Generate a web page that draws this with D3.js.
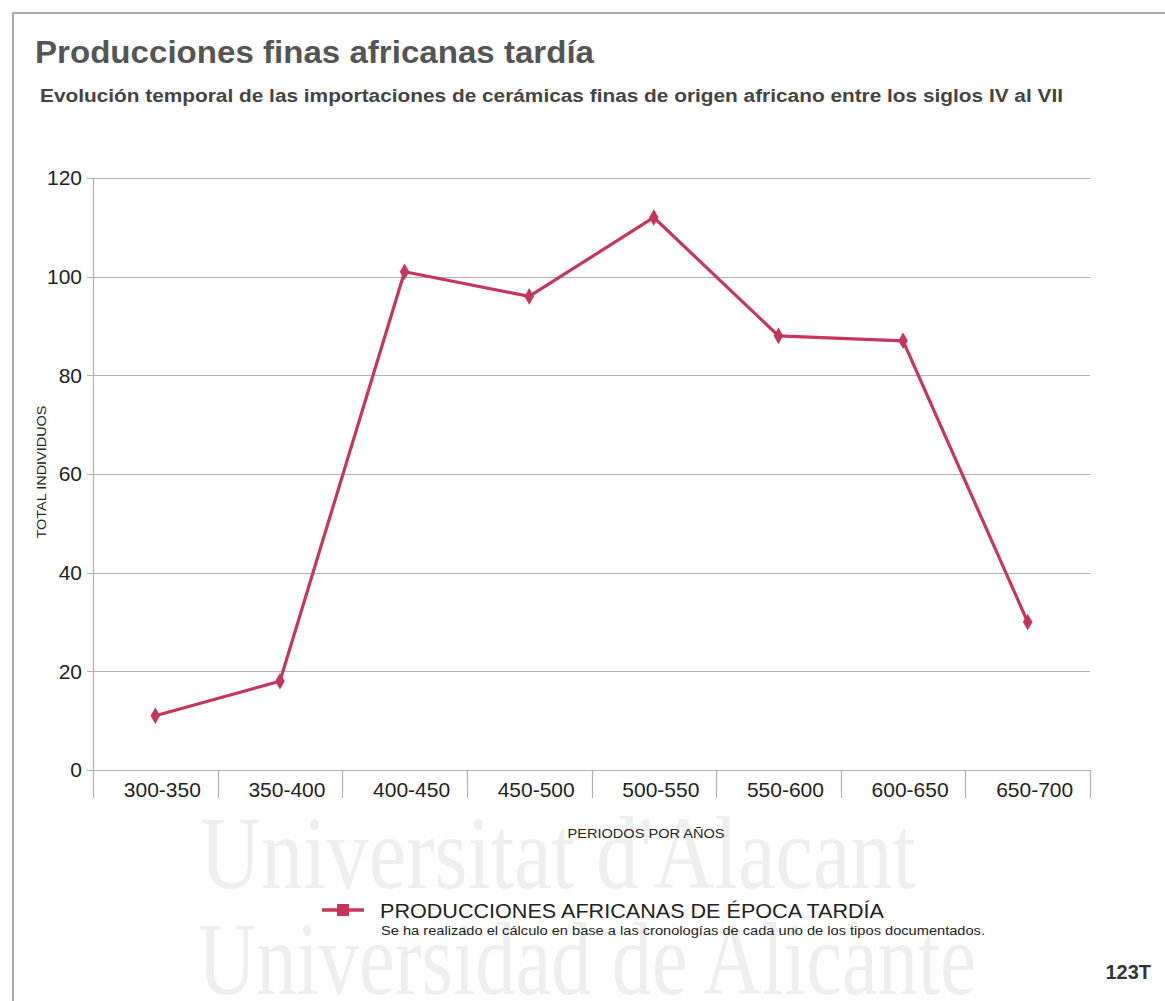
<!DOCTYPE html>
<html>
<head>
<meta charset="utf-8">
<script src="https://cdn.jsdelivr.net/npm/d3@7"></script>
<style>
  html, body { margin: 0; padding: 0; background: #fff; }
  svg { display: block; }
</style>
</head>
<body>
<svg id="chart" width="1165" height="1001"></svg>
<script>
// Periods (years) and total individuals per period
const periods = ["300-350", "350-400", "400-450", "450-500", "500-550", "550-600", "600-650", "650-700"];
const totals = [11, 18, 101, 96, 112, 88, 87, 30];
const yTicks = [0, 20, 40, 60, 80, 100, 120];

const seriesName = "PRODUCCIONES AFRICANAS DE ÉPOCA TARDÍA";
const note = "Se ha realizado el cálculo en base a las cronologías de cada uno de los tipos documentados.";
const titleText = "Producciones finas africanas tardía";
const subtitleText = "Evolución temporal de las importaciones de cerámicas finas de origen africano entre los siglos IV al VII";

const lineColor = "#c4375a";
const gridColor = "#b0b0b0";
const font = "'Liberation Sans', Arial, Helvetica, sans-serif";

const svg = d3.select("#chart");

// Watermark text in the lower area
const wm = svg.append("g").attr("fill", "#eeeeee").attr("font-family", "'Liberation Serif', 'Times New Roman', serif");
wm.append("text").attr("x", 200).attr("y", 888).attr("font-size", 104)
  .attr("textLength", 716).attr("lengthAdjust", "spacingAndGlyphs").text("Universitat d'Alacant");
wm.append("text").attr("x", 198).attr("y", 994).attr("font-size", 104)
  .attr("textLength", 778).attr("lengthAdjust", "spacingAndGlyphs").text("Universidad de Alicante");

// Outer frame
svg.append("path")
  .attr("d", "M13,1001 V13 H1165")
  .attr("fill", "none").attr("stroke", "#aaaaaa").attr("stroke-width", 2);

// Titles
svg.append("text").attr("x", 35).attr("y", 63)
  .attr("font-family", font).attr("font-size", 32).attr("font-weight", "bold")
  .attr("fill", "#555").attr("textLength", 559).attr("lengthAdjust", "spacingAndGlyphs")
  .text(titleText);
svg.append("text").attr("x", 40).attr("y", 102)
  .attr("font-family", font).attr("font-size", 18).attr("font-weight", "bold")
  .attr("fill", "#444").attr("textLength", 1023).attr("lengthAdjust", "spacingAndGlyphs")
  .text(subtitleText);

// Plot area
const plot = { left: 93, right: 1090, top: 178, bottom: 770 };

const x = d3.scaleBand().domain(periods).range([plot.left, plot.right]);
const y = d3.scaleLinear().domain([0, 120]).range([plot.bottom, plot.top]);

// Horizontal gridlines
svg.append("g")
  .selectAll("line").data(yTicks).join("line")
  .attr("x1", plot.left - 6).attr("x2", plot.right)
  .attr("y1", d => Math.round(y(d)) + 0.5).attr("y2", d => Math.round(y(d)) + 0.5)
  .attr("stroke", gridColor).attr("stroke-width", 1.2);

// Y axis labels
const yAxis = svg.append("g")
  .attr("transform", `translate(${plot.left},0)`)
  .call(d3.axisLeft(y).tickValues(yTicks).tickSize(0).tickPadding(11));
yAxis.select(".domain").remove();
yAxis.selectAll("text")
  .attr("font-family", font).attr("font-size", 21).attr("fill", "#222");

// Vertical axis line
svg.append("line")
  .attr("x1", plot.left + 0.5).attr("x2", plot.left + 0.5)
  .attr("y1", plot.top).attr("y2", plot.bottom + 28)
  .attr("stroke", gridColor).attr("stroke-width", 1.2);

// Category separators below the baseline
const bounds = periods.map(p => x(p)).concat([plot.right]);
svg.append("g")
  .selectAll("line").data(bounds.slice(1)).join("line")
  .attr("x1", d => Math.round(d) + 0.5).attr("x2", d => Math.round(d) + 0.5)
  .attr("y1", plot.bottom).attr("y2", plot.bottom + 28)
  .attr("stroke", gridColor).attr("stroke-width", 1.2);

// X axis labels (sit slightly right of the band centre)
const xAxis = svg.append("g")
  .attr("transform", `translate(7,${plot.bottom})`)
  .call(d3.axisBottom(x).tickSize(0).tickPadding(12));
xAxis.select(".domain").remove();
xAxis.selectAll("text")
  .attr("font-family", font).attr("font-size", 21).attr("fill", "#222");

// Axis titles
svg.append("text")
  .attr("transform", `translate(46,${(plot.top + plot.bottom) / 2 - 2}) rotate(-90)`)
  .attr("text-anchor", "middle")
  .attr("font-family", font).attr("font-size", 13).attr("fill", "#222")
  .attr("textLength", 133).attr("lengthAdjust", "spacingAndGlyphs")
  .text("TOTAL INDIVIDUOS");
svg.append("text")
  .attr("x", 646).attr("y", 838).attr("text-anchor", "middle")
  .attr("font-family", font).attr("font-size", 13.5).attr("fill", "#222")
  .attr("textLength", 157).attr("lengthAdjust", "spacingAndGlyphs")
  .text("PERIODOS POR AÑOS");

// Series line
const cx = p => x(p) + x.bandwidth() / 2;
const line = d3.line().x((d, i) => cx(periods[i])).y(d => y(d));
svg.append("path")
  .datum(totals)
  .attr("d", line)
  .attr("fill", "none").attr("stroke", lineColor).attr("stroke-width", 3.2)
  .attr("stroke-linejoin", "round");

// Markers
const diamond = d3.symbol().type(d3.symbolDiamond).size(80);
svg.append("g")
  .selectAll("path").data(totals).join("path")
  .attr("transform", (d, i) => `translate(${cx(periods[i])},${y(d)})`)
  .attr("d", diamond)
  .attr("fill", lineColor);

// Legend
const lg = svg.append("g").attr("transform", "translate(322,910)");
lg.append("line").attr("x1", 0).attr("x2", 42).attr("y1", 0).attr("y2", 0)
  .attr("stroke", lineColor).attr("stroke-width", 3.5);
lg.append("rect").attr("x", 15).attr("y", -6).attr("width", 12).attr("height", 12)
  .attr("fill", lineColor);
lg.append("text").attr("x", 58).attr("y", 8)
  .attr("font-family", font).attr("font-size", 20).attr("fill", "#222")
  .attr("textLength", 504).attr("lengthAdjust", "spacingAndGlyphs")
  .text(seriesName);
lg.append("text").attr("x", 59).attr("y", 25)
  .attr("font-family", font).attr("font-size", 12).attr("fill", "#222")
  .attr("textLength", 604).attr("lengthAdjust", "spacingAndGlyphs")
  .text(note);

// Page number
svg.append("text").attr("x", 1151).attr("y", 979).attr("text-anchor", "end")
  .attr("font-family", font).attr("font-size", 20).attr("font-weight", "bold")
  .attr("fill", "#333").text("123T");
</script>
</body>
</html>
